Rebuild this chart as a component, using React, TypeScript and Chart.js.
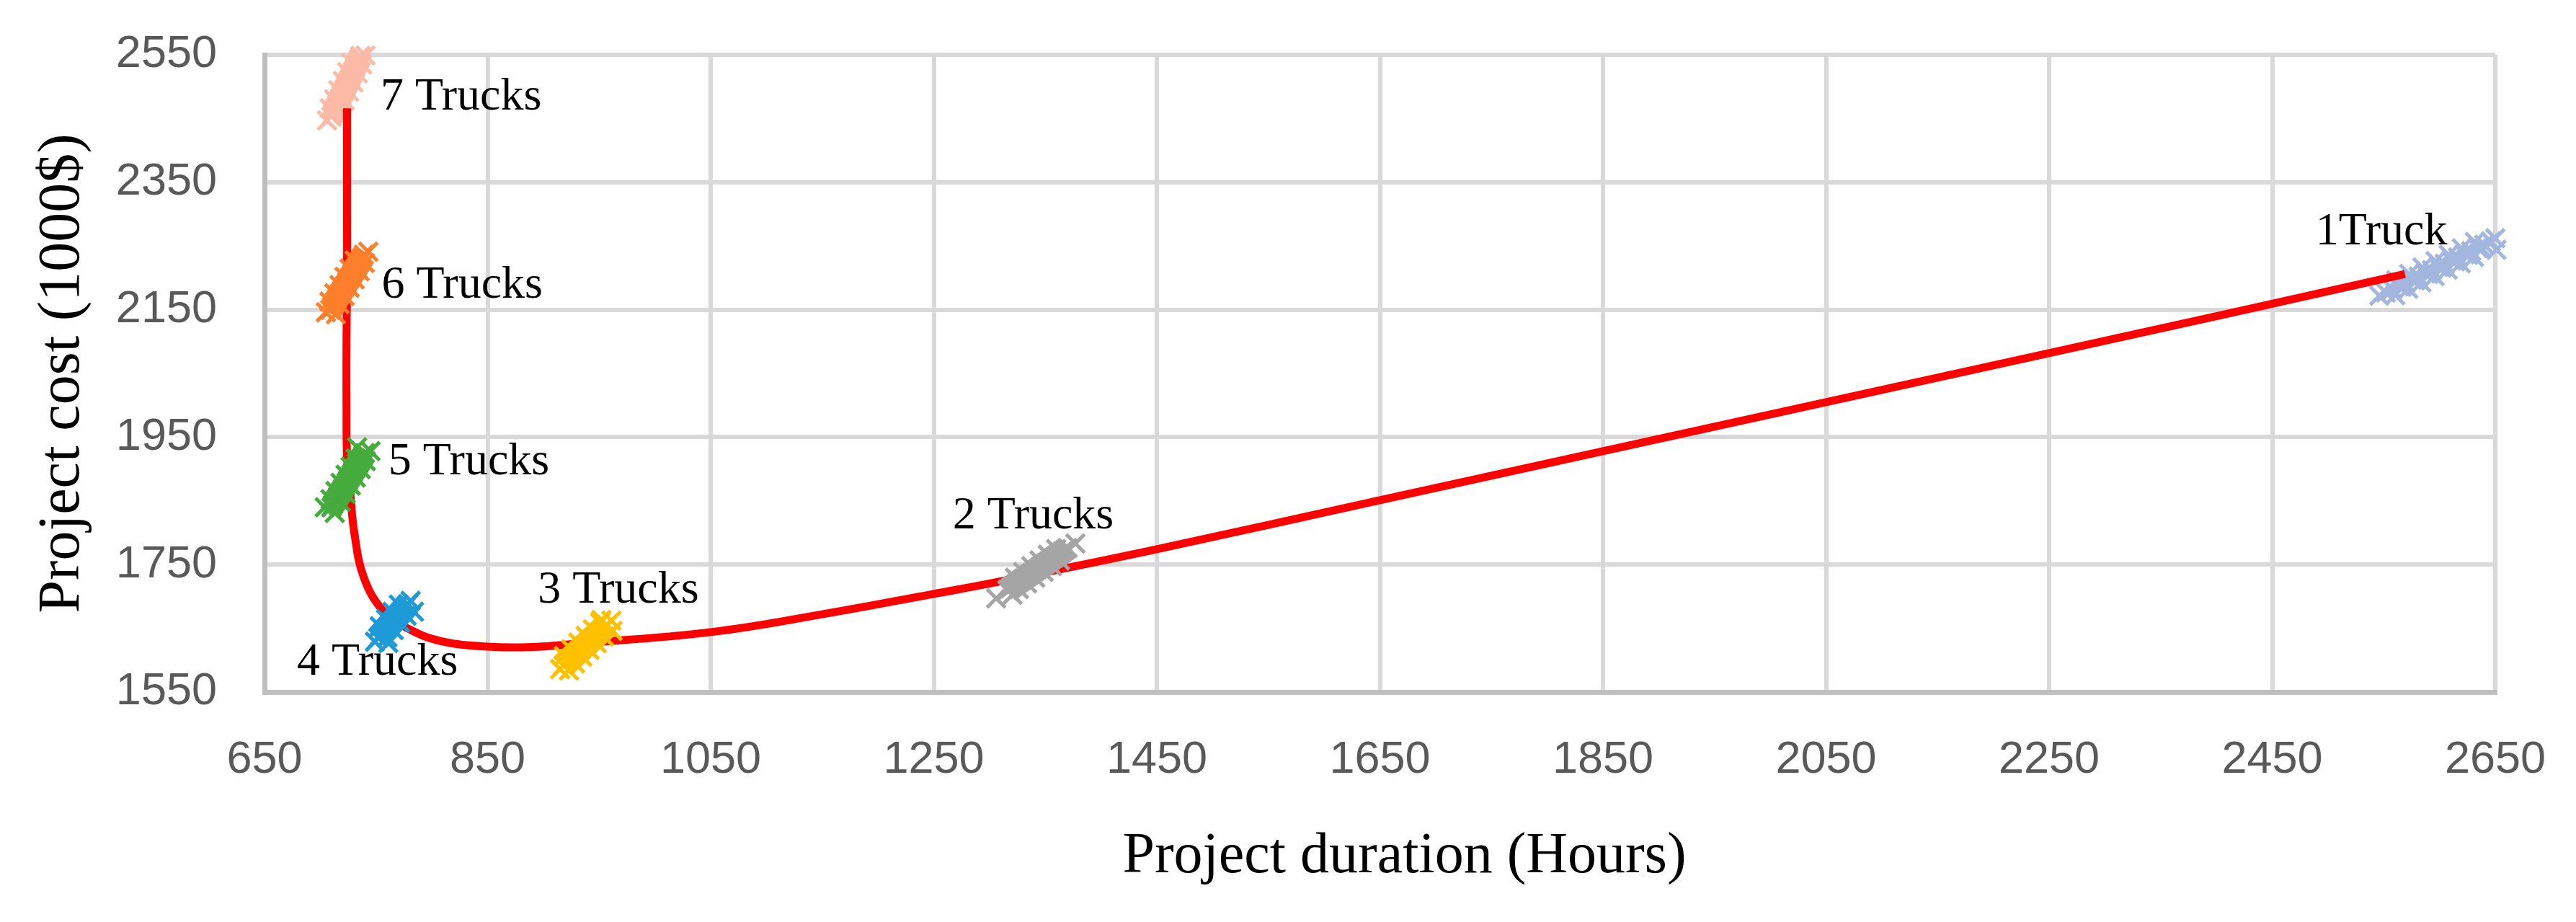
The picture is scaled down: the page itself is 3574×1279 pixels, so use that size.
import React, { useEffect, useRef } from "react";
import { Chart, registerables } from "chart.js";

Chart.register(...registerables);

const CANVAS_W = 3574;
const CANVAS_H = 1279;
const SERIF = "'Liberation Serif', 'Times New Roman', serif";
const SANS = "'Liberation Sans', Arial, sans-serif";

// ---- axis ticks ----
const xTickValues = [650, 850, 1050, 1250, 1450, 1650, 1850, 2050, 2250, 2450, 2650];
const yTickValues = [1550, 1750, 1950, 2150, 2350, 2550];
const xTitle = "Project duration (Hours)";
const yTitle = "Project cost (1000$)";

// ---- solution clouds (duration, cost) ----
const truck1: [number, number][] = [
  [2546, 2172], [2551.9, 2177], [2557.8, 2182], [2563.6, 2187], [2569.5, 2192], [2575.4, 2197],
  [2581.3, 2202], [2587.2, 2207], [2593.1, 2212], [2598.9, 2217], [2604.8, 2222], [2610.7, 2227],
  [2616.6, 2232], [2622.5, 2237], [2628.4, 2242], [2634.2, 2247], [2640.1, 2252], [2646, 2257],
  [2560.3, 2172.8], [2572, 2182.8], [2583.8, 2192.8], [2595.6, 2202.8], [2607.3, 2212.8], [2619.1, 2222.8], [2630.9, 2232.8],
  [2561.1, 2196.2], [2572.9, 2206.2], [2584.7, 2216.2], [2596.4, 2226.2], [2608.2, 2236.2], [2620, 2246.2], [2631.7, 2256.2],
  [2566, 2186], [2578, 2196], [2590, 2206], [2602, 2216], [2614, 2226], [2626, 2236], [2638, 2246],
  [2650, 2262], [2651, 2244],
];
const truck2: [number, number][] = [
  [1316, 1710], [1320.9, 1716], [1325.8, 1722], [1330.7, 1728], [1335.6, 1734], [1340.5, 1740],
  [1345.5, 1746], [1350.4, 1752], [1355.3, 1758], [1360.2, 1764], [1365.1, 1770], [1370, 1776],
  [1318.5, 1713], [1323.4, 1719], [1328.3, 1725], [1333.2, 1731], [1338.1, 1737], [1343, 1743],
  [1348, 1749], [1352.9, 1755], [1357.8, 1761], [1362.7, 1767], [1367.6, 1773],
  [1326.4, 1711.6], [1333.7, 1720.6], [1341, 1729.6], [1348.5, 1738.6], [1355.9, 1747.6], [1363.2, 1756.6],
  [1322.8, 1729.4], [1330.2, 1738.4], [1337.5, 1747.4], [1344.9, 1756.4], [1352.3, 1765.4], [1359.7, 1774.4],
  [1306, 1697], [1320.6, 1702.7], [1377, 1783],
];
const truck3: [number, number][] = [
  [918, 1592], [922.3, 1599], [926.7, 1606], [931, 1613], [935.3, 1620], [939.7, 1627],
  [944, 1634], [948.3, 1641], [952.7, 1648], [957, 1655],
  [920.2, 1595.5], [924.5, 1602.5], [928.8, 1609.5], [933.2, 1616.5], [937.5, 1623.5],
  [941.8, 1630.5], [946.2, 1637.5], [950.5, 1644.5], [954.8, 1651.5],
  [928.4, 1595], [934.9, 1605.5], [941.4, 1616], [947.9, 1626.5], [954.4, 1637],
  [918.4, 1606.5], [924.9, 1617], [931.4, 1627.5], [937.9, 1638], [944.4, 1648.5], [950.9, 1659],
  [952, 1663], [961, 1662], [962, 1646], [915, 1586], [923, 1584],
];
const truck4: [number, number][] = [
  [752, 1635], [755.8, 1642.6], [759.6, 1650.1], [763.4, 1657.7], [767.2, 1665.3], [771, 1672.9],
  [774.8, 1680.4], [778.6, 1688],
  [753.9, 1638.8], [757.7, 1646.4], [761.5, 1653.9], [765.3, 1661.5], [769.1, 1669.1], [772.9, 1676.6], [776.7, 1684.2],
  [760.2, 1635.9], [765.9, 1647.2], [771.6, 1658.6], [777.3, 1669.9],
  [753.3, 1653.1], [759, 1664.4], [764.7, 1675.8], [770.4, 1687.1],
  [749, 1629], [761, 1627], [781, 1693], [784, 1676],
];
const truck5: [number, number][] = [
  [710, 1840], [713, 1848.5], [716, 1857], [719, 1865.5], [722, 1874], [725, 1882.5],
  [728, 1891], [731, 1899.5], [734, 1908], [737, 1916.5], [740, 1925],
  [711.5, 1844.25], [714.5, 1852.75], [717.5, 1861.25], [720.5, 1869.75], [723.5, 1878.25],
  [726.5, 1886.75], [729.5, 1895.25], [732.5, 1903.75], [735.5, 1912.25], [738.5, 1920.75],
  [718.3, 1848.7], [722.8, 1861.4], [727.3, 1874.2], [731.8, 1886.9], [736.3, 1899.7], [740.8, 1912.4],
  [709.2, 1852.6], [713.7, 1865.4], [718.2, 1878.1], [722.7, 1890.9], [727.2, 1903.6], [731.7, 1916.4],
  [733, 1934], [745, 1928], [704, 1840], [713, 1831],
];
const truck6: [number, number][] = [
  [709, 2150], [712, 2158.6], [715, 2167.2], [718, 2175.8], [721, 2184.4], [724, 2193],
  [727, 2201.6], [730, 2210.2], [733, 2218.8], [736, 2227.4], [739, 2236],
  [710.5, 2154.3], [713.5, 2162.9], [716.5, 2171.5], [719.5, 2180.1], [722.5, 2188.7],
  [725.5, 2197.3], [728.5, 2205.9], [731.5, 2214.5], [734.5, 2223.1], [737.5, 2231.7],
  [717.3, 2158.8], [721.8, 2171.7], [726.3, 2184.6], [730.8, 2197.5], [735.3, 2210.4], [739.8, 2223.3],
  [708.2, 2162.7], [712.7, 2175.6], [717.2, 2188.5], [721.7, 2201.4], [726.2, 2214.3], [730.7, 2227.2],
  [743, 2241], [705, 2146], [714, 2143],
];
const truck7: [number, number][] = [
  [710, 2453], [712.6, 2462.5], [715.2, 2472], [717.8, 2481.5], [720.4, 2491], [723, 2500.5],
  [725.6, 2510], [728.2, 2519.5], [730.8, 2529], [733.4, 2538.5], [736, 2548],
  [711.3, 2457.75], [713.9, 2467.25], [716.5, 2476.75], [719.1, 2486.25], [721.7, 2495.75],
  [724.3, 2505.25], [726.9, 2514.75], [729.5, 2524.25], [732.1, 2533.75], [734.7, 2543.25],
  [718, 2463.9], [721.9, 2478.1], [725.8, 2492.4], [729.7, 2506.6], [733.6, 2520.9], [737.5, 2535.1],
  [708.5, 2465.9], [712.4, 2480.2], [716.3, 2494.4], [720.2, 2508.7], [724.1, 2522.9], [728, 2537.2],
  [740.5, 2549], [706, 2447],
];

// ---- trade-off (Pareto) curve ----
const frontierDuration = [724, 724, 724, 724, 723.5, 723.5, 724, 727, 730.5, 739, 756, 777, 808, 852, 895, 924, 1050, 1150, 1250, 1311, 1450, 1650, 2050, 2416, 2569];
const frontierCost = [2466, 2400, 2300, 2200, 2100, 2000, 1920, 1860, 1800, 1730, 1678, 1651, 1630, 1621, 1621, 1625, 1644, 1672, 1704, 1724, 1774, 1851, 2005, 2146, 2206];

// ---- cloud labels ----
const cloudLabels = ["1Truck", "2 Trucks", "3 Trucks", "4 Trucks", "5 Trucks", "6 Trucks", "7 Trucks"];
const cloudLabelDuration = [2489, 1267, 895, 679, 761, 755, 754];
const cloudLabelCost = [2253, 1807, 1690, 1577, 1892, 2169, 2464];

const clouds = [
  { name: "1 Truck", pts: truck1, color: "#A3B6DE", order: 2 },
  { name: "2 Trucks", pts: truck2, color: "#A5A5A5", order: 0 },
  { name: "3 Trucks", pts: truck3, color: "#FFC000", order: 0 },
  { name: "4 Trucks", pts: truck4, color: "#1E9BD7", order: 0 },
  { name: "5 Trucks", pts: truck5, color: "#45AB3D", order: 0 },
  { name: "6 Trucks", pts: truck6, color: "#FD7F2C", order: 0 },
  { name: "7 Trucks", pts: truck7, color: "#FBBAA6", order: 2 },
];

const labelPlugin = {
  id: "cloudLabels",
  afterDatasetsDraw(chart: any) {
    const { ctx, scales, chartArea } = chart;
    const x = scales.x;
    const y = scales.y;
    ctx.save();
    ctx.fillStyle = "#000000";
    ctx.font = `64px ${SERIF}`;
    ctx.textAlign = "left";
    ctx.textBaseline = "alphabetic";
    cloudLabels.forEach((t, i) => {
      ctx.fillText(t, x.getPixelForValue(cloudLabelDuration[i]), y.getPixelForValue(cloudLabelCost[i]));
    });
    ctx.font = `80px ${SERIF}`;
    ctx.textAlign = "center";
    ctx.fillText(xTitle, (chartArea.left + chartArea.right) / 2 + 34, chartArea.bottom + 250);
    ctx.restore();
  },
};

const zeroPadding = (s: any) => {
  s.paddingTop = 0;
  s.paddingBottom = 0;
  s.paddingLeft = 0;
  s.paddingRight = 0;
};

export default function App() {
  const ref = useRef<HTMLCanvasElement | null>(null);

  useEffect(() => {
    if (!ref.current) return;
    const datasets: any[] = clouds.map((c) => ({
      label: c.name,
      data: c.pts.map(([d, k]) => ({ x: d, y: k })),
      showLine: false,
      pointStyle: "crossRot",
      pointRadius: 18,
      pointBorderWidth: 5,
      pointBorderColor: c.color,
      pointBackgroundColor: c.color,
      borderColor: c.color,
      backgroundColor: c.color,
      clip: false,
      order: c.order,
    }));
    datasets.push({
      label: "Trade-off curve",
      data: frontierDuration.map((d, i) => ({ x: d, y: frontierCost[i] })),
      showLine: true,
      pointRadius: 0,
      borderColor: "#FF0000",
      borderWidth: 11,
      tension: 0.4,
      fill: false,
      clip: false,
      order: 1,
    });

    const chart = new Chart(ref.current, {
      type: "scatter",
      data: { datasets },
      options: {
        responsive: false,
        animation: false,
        events: [],
        layout: { padding: { left: 0, top: 76, right: 112, bottom: 0 } },
        plugins: { legend: { display: false }, tooltip: { enabled: false } },
        scales: {
          x: {
            type: "linear",
            min: 650,
            max: 2650,
            afterBuildTicks: (axis: any) => {
              axis.ticks = xTickValues.map((v) => ({ value: v }));
            },
            ticks: {
              font: { family: SANS, size: 63 },
              color: "#595959",
              padding: 57,
              maxRotation: 0,
              autoSkip: false,
              callback: (v: any) => String(v),
            },
            grid: { color: "#D9D9D9", lineWidth: 6, drawTicks: false },
            border: { color: "#BFBFBF", width: 7 },
            afterFit: (s: any) => {
              s.height = 319;
              zeroPadding(s);
            },
          },
          y: {
            type: "linear",
            min: 1550,
            max: 2550,
            afterBuildTicks: (axis: any) => {
              axis.ticks = yTickValues.map((v) => ({ value: v }));
            },
            ticks: {
              font: { family: SANS, size: 63 },
              color: "#595959",
              padding: 66,
              autoSkip: false,
              callback: (v: any) => String(v),
            },
            grid: { color: "#D9D9D9", lineWidth: 6, drawTicks: false },
            border: { color: "#BFBFBF", width: 7 },
            title: {
              display: true,
              text: yTitle,
              color: "#000000",
              font: { family: SERIF, size: 82 },
              padding: { top: 38, bottom: 0 },
            },
            afterFit: (s: any) => {
              s.width = 367;
              zeroPadding(s);
            },
          },
        },
      },
      plugins: [labelPlugin],
    } as any);

    return () => chart.destroy();
  }, []);

  return (
    <div style={{ position: "fixed", left: 0, top: 0, width: CANVAS_W, height: CANVAS_H, background: "#fff" }}>
      <canvas ref={ref} width={CANVAS_W} height={CANVAS_H} style={{ display: "block", width: CANVAS_W, height: CANVAS_H }} />
    </div>
  );
}
